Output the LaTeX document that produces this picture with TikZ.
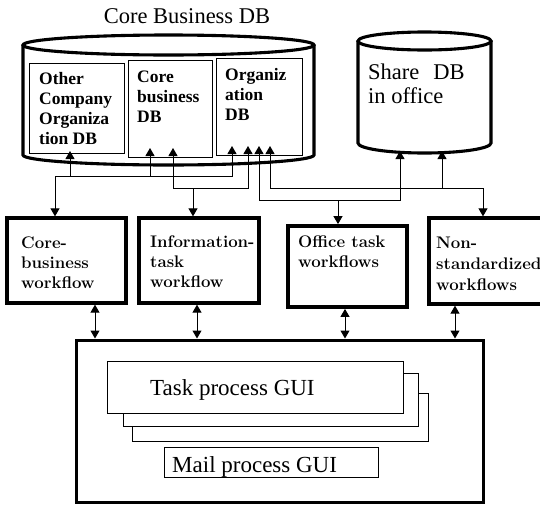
\documentclass[tikz,border=0pt]{standalone}
\usepackage{fontspec}
\newfontfamily\timesfont{Liberation Serif}
\usetikzlibrary{arrows.meta}

\begin{document}
\begin{tikzpicture}[x=1pt,y=-1pt,
  cyl/.style={line width=3.1pt},
  dbbox/.style={draw, shape=rectangle, inner sep=0pt},
  flowbox/.style={draw, shape=rectangle, inner sep=0pt},
  guibox/.style={draw, fill=white, shape=rectangle, inner sep=0pt},
  tip/.tip={Triangle[length=8pt,width=9pt]},
  conn/.style={line width=1pt, -tip},
  biconn/.style={line width=1pt, tip-tip},
  titletext/.style={font=\timesfont\fontsize{22.5}{27}\selectfont, inner sep=0pt},
  dbtext/.style={font=\timesfont\bfseries\fontsize{17.5}{20}\selectfont, inner sep=0pt, anchor=base west},
  flowtext/.style={font=\bfseries\fontsize{16.8}{20}\selectfont, inner sep=0pt, anchor=base west},
  bigtext/.style={font=\timesfont\fontsize{22.5}{27}\selectfont, inner sep=0pt, anchor=base west},
]
\useasboundingbox (0,0) rectangle (540,504);
\fill[white] (0,0) rectangle (540,504);
\clip (0,0) rectangle (540,504);

% ---- Core Business DB cylinder ----
\node[titletext, anchor=base] (title) at (187,23) {Core Business DB};
\draw[cyl] (168.5,45) ellipse[x radius=145.5pt, y radius=10pt];
\draw[cyl] (23,45) -- (23,155) arc[start angle=180, end angle=360, x radius=145.5pt, y radius=10pt] -- (314,45);

\node[dbbox, line width=1pt, minimum width=95pt, minimum height=90pt] (oc) at (76.5,108) {};
\node[dbbox, line width=1pt, minimum width=84pt, minimum height=97pt] (cb) at (170,108.5) {};
\node[dbbox, line width=1pt, minimum width=86pt, minimum height=97pt] (org) at (259,106.5) {};

\node[dbtext] (oc1) at (39,84) {Other};
\node[dbtext] (oc2) at (39,104) {Company};
\node[dbtext] (oc3) at (39,124) {Organiza};
\node[dbtext] (oc4) at (39,144) {tion DB};
\node[dbtext] (cb1) at (137,82) {Core};
\node[dbtext] (cb2) at (137,102) {business};
\node[dbtext] (cb3) at (137,122) {DB};
\node[dbtext] (org1) at (225,80) {Organiz};
\node[dbtext] (org2) at (225,100) {ation};
\node[dbtext] (org3) at (225,120) {DB};

% ---- Share DB cylinder ----
\draw[cyl] (424.5,41) ellipse[x radius=66.5pt, y radius=9pt];
\draw[cyl] (358,41) -- (358,143) arc[start angle=180, end angle=360, x radius=66.5pt, y radius=10pt] -- (491,41);
\node[bigtext] (sh1) at (368,79) {Share\hspace{14pt}DB};
\node[bigtext] (sh2) at (368,103) {in office};

% ---- workflow boxes ----
\node[flowbox, line width=3.3pt, minimum width=119pt, minimum height=85pt] (cbflow) at (66.5,260.5) {};
\node[flowbox, line width=3.3pt, minimum width=120pt, minimum height=85pt] (info) at (199,260.5) {};
\node[flowbox, line width=3.8pt, minimum width=119pt, minimum height=81pt] (office) at (347.5,266.5) {};
\node[flowbox, line width=3.3pt, minimum width=136pt, minimum height=86pt] (nonstd) at (497,261) {};

\node[flowtext] (cbf1) at (21,248) {Core-};
\node[flowtext] (cbf2) at (21,268) {business};
\node[flowtext] (cbf3) at (21,288) {workflow};
\node[flowtext] (inf1) at (150,247) {Information-};
\node[flowtext] (inf2) at (150,267) {task};
\node[flowtext] (inf3) at (150,287) {workflow};
\node[flowtext] (off1) at (298,247) {Office task};
\node[flowtext] (off2) at (298,267) {workflows};
\node[flowtext] (ns1) at (436,248) {Non-};
\node[flowtext] (ns2) at (436,269) {standardized};
\node[flowtext] (ns3) at (436,290) {workflows};

% ---- mail / GUI block ----
\node[flowbox, line width=3pt, minimum width=407pt, minimum height=162pt] (mail) at (279.5,421) {};
\node[guibox, line width=1pt, minimum width=296pt, minimum height=48pt] (g3) at (280,417) {};
\node[guibox, line width=1pt, minimum width=295pt, minimum height=53pt] (g2) at (270.5,399.5) {};
\node[guibox, line width=1pt, minimum width=296pt, minimum height=52pt] (g1) at (255,387) {};
\node[bigtext, font=\timesfont\fontsize{23}{27}\selectfont] (task) at (150,395) {Task process GUI};
\node[guibox, line width=1pt, minimum width=214pt, minimum height=30pt] (mailgui) at (271,462) {};
\node[bigtext, font=\timesfont\fontsize{23}{27}\selectfont] (mailtxt) at (172,472) {Mail process GUI};

% ---- arrow ends at the databases ----
\coordinate (tOC) at (70,151);
\coordinate (tCBa) at (150,148);
\coordinate (tCBb) at (173,148);
\coordinate (tORa) at (232,146);
\coordinate (tORb) at (248,146);
\coordinate (tORc) at (259,146);
\coordinate (tORd) at (270,146);
\coordinate (tSHa) at (400,151);
\coordinate (tSHb) at (442,151);

% ---- bus junctions ----
\coordinate (jA) at (55,176);
\coordinate (jB) at (193,188);
\coordinate (jC) at (338,200);
\coordinate (jD) at (483,188);

% core-business workflow
\draw[conn] (jA) -- (cbflow.north -| jA);
\draw[conn] (jA) -| (tOC);
\draw[conn] (jA) -| (tCBa);
\draw[conn] (jA) -| (tORa);
% information task workflow
\draw[conn] (jB) -- (info.north -| jB);
\draw[conn] (jB) -| (tCBb);
\draw[conn] (jB) -| (tORb);
% office task workflows
\draw[conn] (jC) -- (office.north -| jC);
\draw[conn] (jC) -| (tORc);
\draw[conn] (jC) -| (tSHa);
% non-standardized workflows
\draw[conn] (jD) -- (nonstd.north -| jD);
\draw[conn] (jD) -| (tORd);
\draw[conn] (jD) -| (tSHb);

% ---- workflow <-> mail block ----
\coordinate (bA) at (95,0);
\coordinate (bB) at (197,0);
\coordinate (bC) at (345,0);
\coordinate (bD) at (455,0);
\draw[biconn] (cbflow.south -| bA) -- (mail.north -| bA);
\draw[biconn] (info.south -| bB) -- (mail.north -| bB);
\draw[biconn] (office.south -| bC) -- (mail.north -| bC);
\draw[biconn] (nonstd.south -| bD) -- (mail.north -| bD);
\end{tikzpicture}
\end{document}
